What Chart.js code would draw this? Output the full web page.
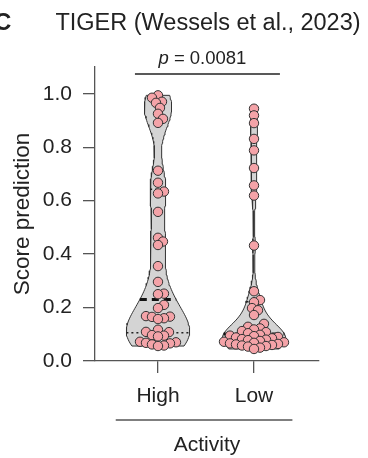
<!DOCTYPE html>
<html>
<head>
<meta charset="utf-8">
<script src="https://cdn.jsdelivr.net/npm/chart.js@4.4.1/dist/chart.umd.min.js"></script>
<style>
  html, body { margin: 0; padding: 0; background: #fff; }
</style>
</head>
<body>
<canvas id="violinChart" width="368" height="458"></canvas>
<script>
// Data
const categories = ['High', 'Low'];
const highScores = [
    0.994, 0.985, 0.970, 0.966, 0.947, 0.925, 0.906, 0.891,
    0.712, 0.667, 0.634, 0.627, 0.558,
    0.461, 0.447, 0.434, 0.355, 0.296, 0.252, 0.250,
    0.210, 0.198, 0.168, 0.166, 0.165, 0.160, 0.157,
    0.117, 0.109, 0.108, 0.097, 0.095, 0.092,
    0.072, 0.070, 0.068, 0.066, 0.062, 0.058, 0.056
];
const lowScores = [
    0.944, 0.919, 0.890, 0.831, 0.788, 0.722, 0.657, 0.619,
    0.432, 0.261, 0.228, 0.220, 0.198, 0.190, 0.172, 0.139, 0.128, 0.122,
    0.118, 0.112, 0.108, 0.104,
    0.098, 0.095, 0.093, 0.090, 0.088, 0.085, 0.082, 0.080, 0.078, 0.075, 0.072,
    0.070, 0.068, 0.066, 0.064, 0.062, 0.060, 0.058, 0.056, 0.054, 0.050, 0.045
];
const yTicks = [0, 0.2, 0.4, 0.6, 0.8, 1.0];
const pValue = '0.0081';
const titleText = 'TIGER (Wessels et al., 2023)';
const xTitle = 'Activity';
const yTitle = 'Score prediction';

const FONT = "'Liberation Sans', Arial, Helvetica, sans-serif";
const AXIS = '#555';
const TEXT = '#222';
const DOT_FILL = '#f4a3a8';
const VIOLIN_FILL = '#d4d4d4';
const HALF_WIDTH = 0.33;   // max half width of a violin, in x units
const DOT_GAP = 6.0;       // min distance between dot centres, px

// Gaussian kernel density, cut at the data range
function density(values, bw, y) {
    let d = 0;
    values.forEach(v => {
        const u = (y - v) / bw;
        d += Math.exp(-0.5 * u * u);
    });
    return d;
}

function violinShape(values, bw, center) {
    const lo = Math.min(...values), hi = Math.max(...values);
    const steps = 120;
    const prof = [];
    for (let i = 0; i <= steps; i++) {
        const y = lo + (hi - lo) * i / steps;
        prof.push({ y, d: density(values, bw, y) });
    }
    const maxD = Math.max(...prof.map(p => p.d));
    const right = prof.map(p => ({ x: center + HALF_WIDTH * p.d / maxD, y: p.y }));
    const left = prof.slice().reverse().map(p => ({ x: center - HALF_WIDTH * p.d / maxD, y: p.y }));
    const pts = right.concat(left);
    pts.push(right[0]);
    return { pts, maxD };
}

function quantile(values, q) {
    const s = values.slice().sort((a, b) => a - b);
    const pos = (s.length - 1) * q;
    const i = Math.floor(pos);
    const f = pos - i;
    return s[i] + (s[Math.min(i + 1, s.length - 1)] - s[i]) * f;
}

function statLine(values, bw, center, maxD, q) {
    const v = quantile(values, q);
    const w = HALF_WIDTH * density(values, bw, v) / maxD;
    return [{ x: center - w, y: v }, { x: center + w, y: v }];
}

const groups = [
    { values: highScores, bw: 0.07, center: 1 },
    { values: lowScores, bw: 0.05, center: 2 }
];

const datasets = [];
groups.forEach(g => {
    const shape = violinShape(g.values, g.bw, g.center);
    datasets.push({
        data: shape.pts, showLine: true, fill: 'shape', tension: 0,
        backgroundColor: VIOLIN_FILL, borderColor: '#333', borderWidth: 1,
        pointRadius: 0, order: 3
    });
    datasets.push({
        data: statLine(g.values, g.bw, g.center, shape.maxD, 0.5), showLine: true,
        borderColor: '#111', borderWidth: 3, borderDash: [7, 5], pointRadius: 0, order: 2
    });
    [0.25, 0.75].forEach(q => {
        datasets.push({
            data: statLine(g.values, g.bw, g.center, shape.maxD, q), showLine: true,
            borderColor: '#222', borderWidth: 1.5, borderDash: [2, 3], pointRadius: 0, order: 2
        });
    });
});
groups.forEach(g => {
    g.dotIndex = datasets.length;
    datasets.push({
        data: g.values.map(v => ({ x: g.center, y: v })),
        showLine: false, pointRadius: 4.7, pointHoverRadius: 4.7,
        backgroundColor: DOT_FILL, borderColor: '#333', borderWidth: 1, order: 1
    });
});

// Title, p value bracket and the line above the x title
const decorations = {
    id: 'decorations',
    afterDraw(chart) {
        const { ctx, chartArea, scales: { x, y } } = chart;
        ctx.save();
        ctx.fillStyle = TEXT;
        ctx.strokeStyle = TEXT;

        ctx.font = 'bold 24px ' + FONT;
        ctx.textAlign = 'left';
        ctx.textBaseline = 'alphabetic';
        ctx.fillText('C', -6, 30);

        ctx.font = '23.5px ' + FONT;
        ctx.textAlign = 'center';
        ctx.fillText(titleText, (chartArea.left + chartArea.right) / 2 + 1, 30);

        // p value
        const px1 = x.getPixelForValue(0.76), px2 = x.getPixelForValue(2.27);
        const py = chartArea.top + 7;
        ctx.lineWidth = 1.3;
        ctx.beginPath();
        ctx.moveTo(px1, py);
        ctx.lineTo(px2, py);
        ctx.stroke();
        ctx.textAlign = 'left';
        ctx.font = 'italic 18.5px ' + FONT;
        const pPart = 'p';
        const w1 = ctx.measureText(pPart).width;
        ctx.font = '18.5px ' + FONT;
        const rest = ' = ' + pValue;
        const w2 = ctx.measureText(rest).width;
        const sx = (px1 + px2) / 2 - 5 - (w1 + w2) / 2;
        ctx.font = 'italic 18.5px ' + FONT;
        ctx.fillText(pPart, sx, py - 10);
        ctx.font = '18.5px ' + FONT;
        ctx.fillText(rest, sx + w1, py - 10);

        // group line
        const gy = chartArea.bottom + 59;
        ctx.strokeStyle = AXIS;
        ctx.beginPath();
        ctx.moveTo(x.getPixelForValue(0.56), gy);
        ctx.lineTo(x.getPixelForValue(2.4), gy);
        ctx.stroke();
        ctx.restore();
    }
};

const ctx = document.getElementById('violinChart').getContext('2d');
const chart = new Chart(ctx, {
    type: 'scatter',
    data: { datasets },
    options: {
        responsive: false,
        animation: false,
        layout: { padding: { left: 0, right: 49, top: 67, bottom: 0 } },
        plugins: {
            legend: { display: false },
            tooltip: { enabled: false }
        },
        scales: {
            x: {
                type: 'linear',
                min: 0.344,
                max: 2.677,
                afterBuildTicks: scale => { scale.ticks = categories.map((c, i) => ({ value: i + 1 })); },
                afterFit: scale => { scale.height = 97; },
                ticks: {
                    callback: v => categories[v - 1],
                    font: { family: FONT, size: 21 },
                    color: TEXT,
                    padding: 11,
                    maxRotation: 0
                },
                grid: { drawOnChartArea: false, tickLength: 12, color: AXIS, lineWidth: 1.3 },
                border: { color: AXIS, width: 1.3 },
                title: {
                    display: true, text: xTitle, color: TEXT,
                    font: { family: FONT, size: 21 },
                    padding: { top: 20, bottom: 0 }
                }
            },
            y: {
                min: 0,
                max: 1.1,
                afterBuildTicks: scale => { scale.ticks = yTicks.map(v => ({ value: v })); },
                afterFit: scale => { scale.width = 95; },
                ticks: {
                    callback: v => v.toFixed(1),
                    font: { family: FONT, size: 21 },
                    color: TEXT,
                    padding: 11
                },
                grid: { drawOnChartArea: false, tickLength: 12, color: AXIS, lineWidth: 1.3 },
                border: { color: AXIS, width: 1.3 },
                title: {
                    display: true, text: yTitle, color: TEXT,
                    font: { family: FONT, size: 22.5 },
                    padding: { top: 9, bottom: 0 }
                }
            }
        }
    },
    plugins: [decorations]
});

// Spread the dots sideways (simple beeswarm) once the scales are known
groups.forEach(g => {
    const xs = chart.scales.x, ys = chart.scales.y;
    const pxPerUnit = xs.getPixelForValue(1) - xs.getPixelForValue(0);
    const placed = [];
    const order = g.values.map((v, i) => i).sort((a, b) => g.values[a] - g.values[b]);
    const data = chart.data.datasets[g.dotIndex].data;
    order.forEach(i => {
        const py = ys.getPixelForValue(g.values[i]);
        for (let k = 0; k < 400; k++) {
            const dx = (k % 2 ? 1 : -1) * Math.ceil(k / 2);
            const free = placed.every(p => (p.x - dx) ** 2 + (p.y - py) ** 2 >= DOT_GAP * DOT_GAP);
            if (free) {
                placed.push({ x: dx, y: py });
                data[i].x = g.center + dx / pxPerUnit;
                break;
            }
        }
    });
});
chart.update('none');
</script>
</body>
</html>
